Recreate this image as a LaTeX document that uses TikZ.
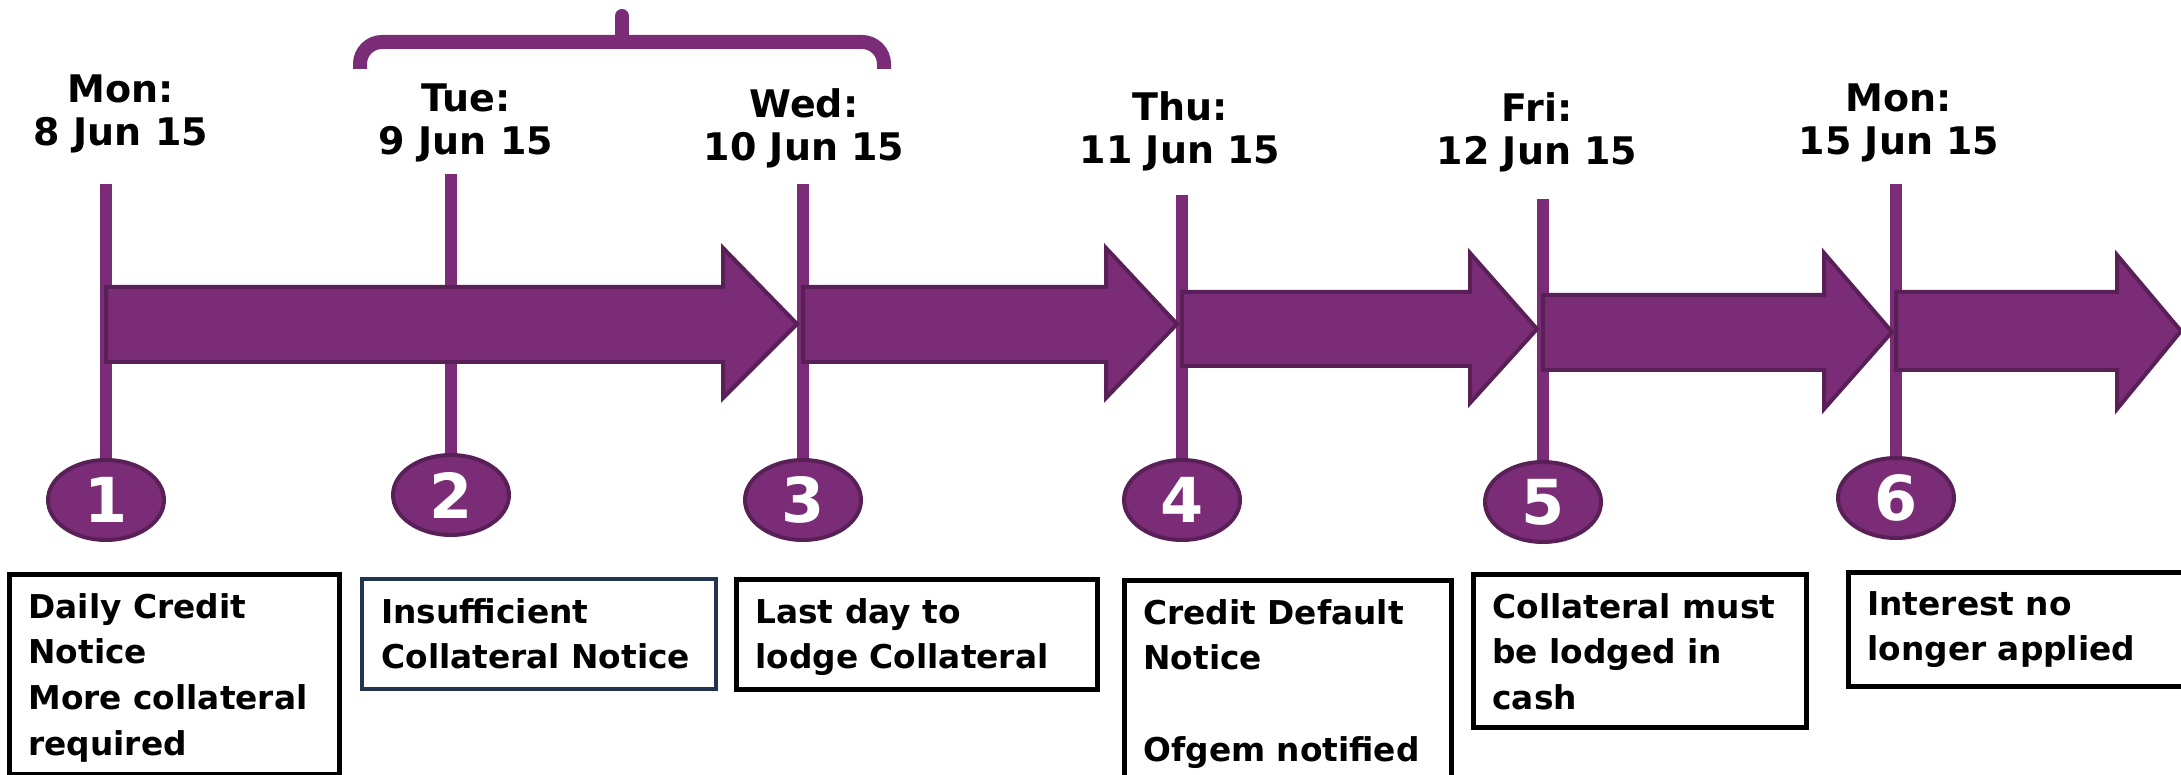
\documentclass[tikz,border=0pt]{standalone}
\usepackage{fontspec}
\setmainfont{DejaVu Sans}
\usetikzlibrary{shapes.geometric}
\definecolor{purp}{RGB}{122,45,118}
\definecolor{purpdark}{RGB}{88,32,86}
\definecolor{navy}{RGB}{35,52,80}
\begin{document}
\begin{tikzpicture}[x=0.5pt,y=-0.5pt,
 vline/.style={draw=purp,line width=6.3pt},
 arr/.style={fill=purp,draw=purpdark,line width=2pt,line join=miter},
 num/.style={ellipse,fill=purp,draw=purpdark,line width=2pt,minimum width=58pt,minimum height=40pt,inner sep=0pt,text=white,font=\bfseries\fontsize{31}{31}\selectfont},
 datelbl/.style={align=center,font=\bfseries\fontsize{19}{21.5}\selectfont,inner sep=0pt},
 box/.style={draw=black,line width=2.5pt,anchor=north west,inner sep=0pt},
 btext/.style={anchor=north west,align=left,inner sep=0pt,font=\bfseries\fontsize{16.4}{22.8}\selectfont},
]
\useasboundingbox (0,0) rectangle (2181,775);

% brace
\draw[purp,line width=7pt,rounded corners=11pt] (360,69) -- (360,42) -- (884,42) -- (884,69);
\draw[purp,line width=7pt,line cap=round] (622,42) -- (622,16);
\fill[purp] (610,40) .. controls (616,40) and (618,36) .. (618,30) -- (626,30) .. controls (626,36) and (628,40) .. (634,40) -- cycle;

% dates
\node[datelbl] (d1) at (121,114) {Mon:\\8 Jun 15};
\node[datelbl] (d2) at (466,123) {Tue:\\9 Jun 15};
\node[datelbl] (d3) at (804,128) {Wed:\\10 Jun 15};
\node[datelbl] (d4) at (1180,131) {Thu:\\11 Jun 15};
\node[datelbl] (d5) at (1537,132) {Fri:\\12 Jun 15};
\node[datelbl] (d6) at (1899,123) {Mon:\\15 Jun 15};

% line tops
\coordinate (t1) at (106,184);
\coordinate (t2) at (451,174);
\coordinate (t3) at (803,184);
\coordinate (t4) at (1182,195);
\coordinate (t5) at (1543,199);
\coordinate (t6) at (1896,184);
% circle positions
\coordinate (p1) at (106,500);
\coordinate (p2) at (451,495);
\coordinate (p3) at (803,500);
\coordinate (p4) at (1182,500);
\coordinate (p5) at (1543,502);
\coordinate (p6) at (1896,498);

\draw[vline] (t1) -- (p1);
\draw[vline] (t2) -- (p2);
\draw[vline] (t3) -- (p3);
\draw[vline] (t4) -- (p4);
\draw[vline] (t5) -- (p5);
\draw[vline] (t6) -- (p6);

% arrows
\draw[arr] (106,287) -- (723,287) -- (723,248) -- (797,324) -- (723,398) -- (723,362) -- (106,362) -- cycle;
\draw[arr] (803,287) -- (1106,287) -- (1106,248) -- (1177,324) -- (1106,398) -- (1106,362) -- (803,362) -- cycle;
\draw[arr] (1182,292) -- (1470,292) -- (1470,253) -- (1537,329) -- (1470,403) -- (1470,366) -- (1182,366) -- cycle;
\draw[arr] (1543,295) -- (1824,295) -- (1824,253) -- (1892,332) -- (1824,409) -- (1824,370) -- (1543,370) -- cycle;
\draw[arr] (1896,292) -- (2117,292) -- (2117,255) -- (2181,331) -- (2117,409) -- (2117,370) -- (1896,370) -- cycle;

% numbered circles
\node[num] (c1) at (p1) {1};
\node[num] (c2) at (p2) {2};
\node[num] (c3) at (p3) {3};
\node[num] (c4) at (p4) {4};
\node[num] (c5) at (p5) {5};
\node[num] (c6) at (p6) {6};

% boxes
\node[box,minimum width=165pt,minimum height=100pt] (b1) at (7,572) {};
\node[box,draw=navy,line width=2pt,minimum width=177pt,minimum height=55pt] (b2) at (360,577) {};
\node[box,minimum width=180.5pt,minimum height=55pt] (b3) at (734,577) {};
\node[box,minimum width=163.5pt,minimum height=108pt] (b4) at (1122,578) {};
\node[box,minimum width=166.5pt,minimum height=76.5pt] (b5) at (1471,572) {};
\node[box,minimum width=174.5pt,minimum height=57pt] (b6) at (1846,570) {};

\node[btext] (x1) at ([xshift=10.5pt,yshift=-10.5pt]b1.north west) {Daily Credit\\Notice\\More collateral\\required};
\node[btext] (x2) at ([xshift=10.5pt,yshift=-10.5pt]b2.north west) {Insufficient\\Collateral Notice};
\node[btext] (x3) at ([xshift=10.5pt,yshift=-10.5pt]b3.north west) {Last day to\\lodge Collateral};
\node[btext] (x4) at ([xshift=10.5pt,yshift=-10.5pt]b4.north west) {Credit Default\\Notice\\[22.8pt]Ofgem notified};
\node[btext] (x5) at ([xshift=10.5pt,yshift=-10.5pt]b5.north west) {Collateral must\\be lodged in\\cash};
\node[btext] (x6) at ([xshift=10.5pt,yshift=-10.5pt]b6.north west) {Interest no\\longer applied};
\end{tikzpicture}
\end{document}
